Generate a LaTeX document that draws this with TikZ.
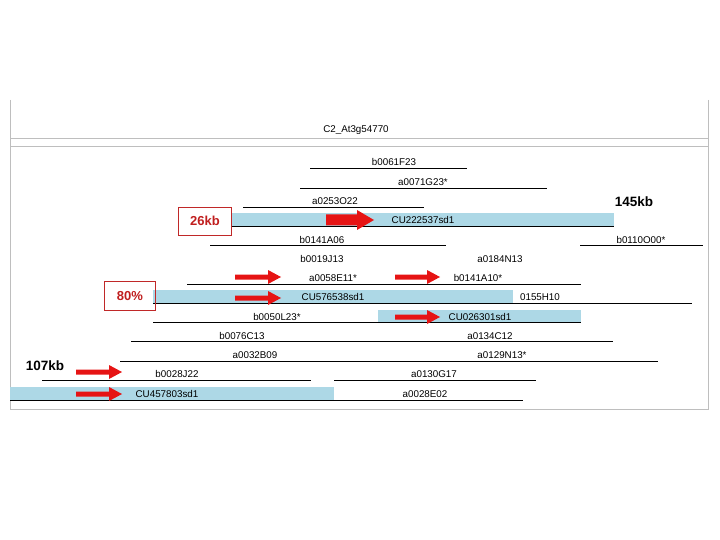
\documentclass[tikz,border=0pt]{standalone}
\usepackage{fontspec}
\setmainfont{Liberation Sans}
\begin{document}
\begin{tikzpicture}[x=1pt,y=-1pt,
  lbl/.style={font=\fontsize{9.8}{10}\selectfont,inner sep=0pt},
  ln/.style={line width=0.8pt},
  bar/.style={fill={rgb,255:red,173;green,216;blue,230}, draw=none},
  gframe/.style={draw={rgb,255:red,190;green,190;blue,190},line width=1pt},
  box/.style={draw={rgb,255:red,192;green,40;blue,40},line width=0.7pt,text={rgb,255:red,192;green,30;blue,30},font=\bfseries\fontsize{13}{14}\selectfont,inner sep=3pt,minimum height=28pt},
  big/.style={font=\bfseries\fontsize{13.5}{14}\selectfont,inner sep=0pt}]
\definecolor{ar}{RGB}{230,20,20}
\newcommand{\redarrow}[3]{\fill[ar] (#1,#3-2.5) -- (#2-13,#3-2.5) -- (#2-13,#3-7) -- (#2,#3) -- (#2-13,#3+7) -- (#2-13,#3+2.5) -- (#1,#3+2.5) -- cycle;}
\useasboundingbox (0,0) rectangle (720,540);
% frame
\draw[gframe] (10,100) -- (10,410);
\draw[gframe] (708,100) -- (708,410);
\draw[gframe] (10,139) -- (708,139);
\draw[gframe] (10,147) -- (708,147);
\draw[gframe] (10,409) -- (708,409);
\node[lbl] (title) at (356,130) {C2\_At3g54770};
% bars
\fill[bar] (232,213) rectangle (614,226);
\fill[bar] (153,290) rectangle (513,303);
\fill[bar] (378,310) rectangle (581,323);
\fill[bar] (10,387) rectangle (334,400);
% lines
\draw[ln] (310,168) -- (467,168);
\draw[ln] (300,188) -- (547,188);
\draw[ln] (243,207) -- (424,207);
\draw[ln] (232,226) -- (614,226);
\draw[ln] (210,245) -- (446,245);
\draw[ln] (580,245) -- (703,245);
\draw[ln] (187,284) -- (581,284);
\draw[ln] (153,303) -- (692,303);
\draw[ln] (153,322) -- (581,322);
\draw[ln] (131,341) -- (613,341);
\draw[ln] (120,361) -- (658,361);
\draw[ln] (42,380) -- (311,380);
\draw[ln] (334,380) -- (536,380);
\draw[ln] (10,400) -- (334,400);
\draw[ln] (334,400) -- (523,400);
% labels
\node[lbl] (l1) at (394,162) {b0061F23};
\node[lbl] (l2) at (423,182) {a0071G23*};
\node[lbl] (l3) at (335,201) {a0253O22};
\node[lbl] (l4) at (423,220) {CU222537sd1};
\node[lbl] (l5) at (322,240) {b0141A06};
\node[lbl] (l6) at (641,240) {b0110O00*};
\node[lbl] (l7) at (322,259) {b0019J13};
\node[lbl] (l8) at (500,259) {a0184N13};
\node[lbl] (l9) at (333,278) {a0058E11*};
\node[lbl] (l10) at (478,278) {b0141A10*};
\node[lbl] (l11) at (333,297) {CU576538sd1};
\node[lbl] (l12) at (540,297) {0155H10};
\node[lbl] (l13) at (277,317) {b0050L23*};
\node[lbl] (l14) at (480,317) {CU026301sd1};
\node[lbl] (l15) at (242,336) {b0076C13};
\node[lbl] (l16) at (490,336) {a0134C12};
\node[lbl] (l17) at (255,355) {a0032B09};
\node[lbl] (l18) at (502,355) {a0129N13*};
\node[lbl] (l19) at (177,374) {b0028J22};
\node[lbl] (l20) at (434,374) {a0130G17};
\node[lbl] (l21) at (167,394) {CU457803sd1};
\node[lbl] (l22) at (425,394) {a0028E02};
% callouts
\node[box,minimum width=53pt] (k26) at (205,221) {26kb};
\node[box,minimum width=51pt,minimum height=29pt] (p80) at (130,296) {80\%};
\node[big] (k107) at (45,366) {107kb};
\node[big] (k145) at (634,202) {145kb};
% arrows
\fill[ar] (326,214.5) -- (357,214.5) -- (357,210) -- (374,220) -- (357,230) -- (357,225.5) -- (326,225.5) -- cycle;
\redarrow{235}{281}{277}
\redarrow{395}{440}{277}
\redarrow{235}{281}{298}
\redarrow{395}{440}{317}
\redarrow{76}{122}{372}
\redarrow{76}{122}{394}
\end{tikzpicture}
\end{document}
